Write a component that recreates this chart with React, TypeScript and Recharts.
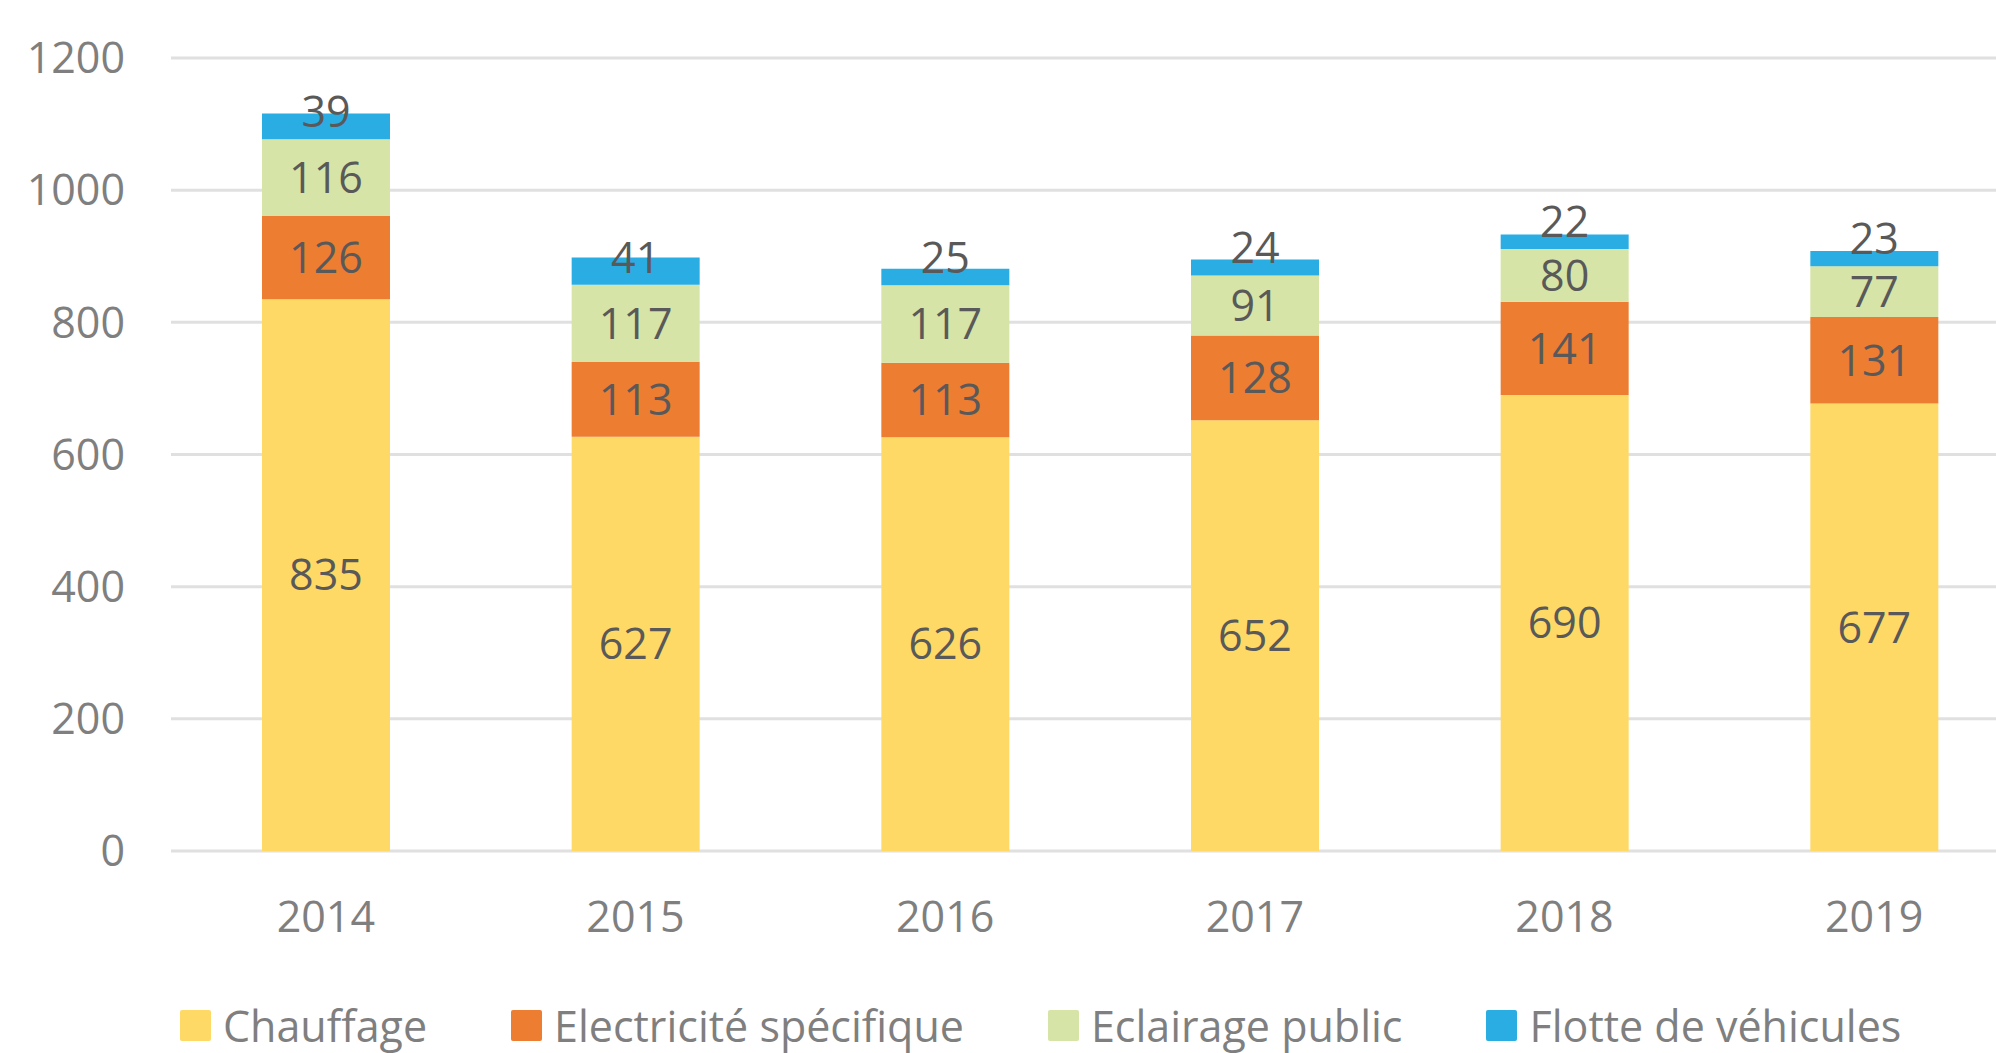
import { BarChart, Bar, XAxis, YAxis, CartesianGrid, Legend, LabelList } from 'recharts';

const years = ['2014', '2015', '2016', '2017', '2018', '2019'];
const chauffage = [835, 627, 626, 652, 690, 677];
const electricite = [126, 113, 113, 128, 141, 131];
const eclairage = [116, 117, 117, 91, 80, 77];
const flotte = [39, 41, 25, 24, 22, 23];
const yTicks = [0, 200, 400, 600, 800, 1000, 1200];

const series = [
    { key: 'chauffage', name: 'Chauffage', color: '#FFD966' },
    { key: 'electricite', name: 'Electricité spécifique', color: '#ED7D31' },
    { key: 'eclairage', name: 'Eclairage public', color: '#D6E4A7' },
    { key: 'flotte', name: 'Flotte de véhicules', color: '#29ADE3' },
];

const chartData = years.map((year, i) => ({
    year,
    chauffage: chauffage[i],
    electricite: electricite[i],
    eclairage: eclairage[i],
    flotte: flotte[i],
}));

const FONT = '"Open Sans", sans-serif';
const AXIS_GREY = '#7F7F7F';
const LABEL_GREY = '#595959';

// the little top segment: Excel pushed the label up so it sits over the bar edge
const TopLabel = (props: any) => {
    const { x, y, width, height, value } = props;
    return (
        <text
            x={x + width / 2}
            y={y + height - 12}
            textAnchor="middle"
            fill={LABEL_GREY}
            fontSize={43}
            fontFamily={FONT}
        >
            {value}
        </text>
    );
};

const renderLegend = () => (
    <div style={{ display: 'flex', alignItems: 'center', height: 60, paddingLeft: 180, paddingTop: 4, boxSizing: 'border-box' }}>
        {series.map((s) => (
            <div key={s.key} style={{ display: 'flex', alignItems: 'center', marginRight: 84 }}>
                <div style={{ width: 31, height: 31, background: s.color, borderRadius: 2, marginRight: 12 }} />
                <span style={{ fontFamily: FONT, fontSize: 43, color: AXIS_GREY, lineHeight: 'normal', whiteSpace: 'nowrap' }}>{s.name}</span>
            </div>
        ))}
    </div>
);

export default function App() {
    return (
        <div style={{ position: 'fixed', left: 0, top: 0, width: 1996, height: 1053, overflow: 'hidden', background: '#fff' }}>
            <BarChart
                width={2040}
                height={1053}
                data={chartData}
                margin={{ top: 58, right: 11, left: 0, bottom: 0 }}
            >
                <CartesianGrid vertical={false} stroke="#E0E0E0" strokeWidth={3} />
                <XAxis
                    dataKey="year"
                    axisLine={false}
                    tickLine={false}
                    tickSize={0}
                    tickMargin={50}
                    height={142}
                    tick={{ fill: AXIS_GREY, fontSize: 43, fontFamily: FONT }}
                />
                <YAxis
                    domain={[0, 1200]}
                    ticks={yTicks}
                    width={171}
                    axisLine={false}
                    tickLine={false}
                    tickSize={0}
                    tickMargin={46}
                    tick={{ fill: AXIS_GREY, fontSize: 43, fontFamily: FONT }}
                />
                <Legend verticalAlign="bottom" content={renderLegend} />
                {series.map((s) => (
                    <Bar
                        key={s.key}
                        dataKey={s.key}
                        name={s.name}
                        stackId="a"
                        fill={s.color}
                        barSize={128}
                        isAnimationActive={false}
                    >
                        {s.key === 'flotte' ? (
                            <LabelList dataKey={s.key} content={TopLabel} />
                        ) : (
                            <LabelList
                                dataKey={s.key}
                                position="center"
                                fill={LABEL_GREY}
                                fontSize={43}
                                fontFamily={FONT}
                            />
                        )}
                    </Bar>
                ))}
            </BarChart>
        </div>
    );
}
